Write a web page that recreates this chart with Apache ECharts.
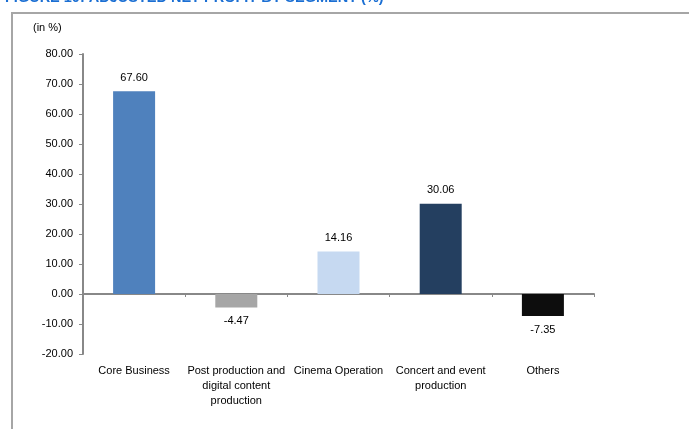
<!DOCTYPE html>
<html>
<head>
<meta charset="utf-8">
<script src="https://cdn.jsdelivr.net/npm/echarts@6/dist/echarts.min.js"></script>
<style>
  html, body { margin: 0; padding: 0; background: #fff; }
  #chart { width: 689px; height: 429px; }
</style>
</head>
<body>
<div id="chart"></div>
<script>
// Adjusted net profit by segment, in percent
const categories = [
  'Core Business',
  'Post production and\ndigital content\nproduction',
  'Cinema Operation',
  'Concert and event\nproduction',
  'Others'
];
const values = [67.60, -4.47, 14.16, 30.06, -7.35];
const barColors = ['#4F81BD', '#A6A6A6', '#C6D9F1', '#243F60', '#0D0D0D'];
const yTicks = { min: -20, max: 80, interval: 10 };

const font = 'Liberation Sans, Arial, sans-serif';
const chart = echarts.init(document.getElementById('chart'), null, { renderer: 'canvas' });

chart.setOption({
  animation: false,
  backgroundColor: '#fff',
  graphic: [
    {
      type: 'text',
      left: 5,
      top: -10,
      style: {
        text: 'FIGURE 10: ADJUSTED NET PROFIT BY SEGMENT (%)',
        font: 'bold 14.5px ' + font,
        fill: '#1B6FD3'
      }
    },
    {
      type: 'rect',
      shape: { x: 12, y: 13, width: 800, height: 600 },
      style: { fill: 'none', stroke: '#A6A6A6', lineWidth: 2 },
      z: -1
    },
    {
      type: 'text',
      left: 33,
      top: 22,
      style: { text: '(in %)', font: '11px ' + font, fill: '#000' }
    }
  ],
  grid: {
    left: 83, top: 54, right: 95, bottom: 75,
    containLabel: false,
    outerBoundsMode: 'none'
  },
  xAxis: {
    type: 'category',
    data: categories,
    axisLine: { onZero: true, lineStyle: { color: '#888', width: 2 } },
    axisTick: { show: true, length: 3, lineStyle: { color: '#888', width: 1 } },
    axisLabel: {
      color: '#000',
      fontSize: 11,
      fontFamily: font,
      lineHeight: 15,
      margin: 9,
      interval: 0,
      align: 'center'
    },
    splitLine: { show: false }
  },
  yAxis: {
    type: 'value',
    min: yTicks.min,
    max: yTicks.max,
    interval: yTicks.interval,
    axisLine: { show: true, lineStyle: { color: '#888', width: 2 } },
    axisTick: { show: true, length: 4, lineStyle: { color: '#888' } },
    axisLabel: {
      color: '#000',
      fontSize: 11,
      fontFamily: font,
      margin: 10,
      formatter: v => v.toFixed(2)
    },
    splitLine: { show: false }
  },
  series: [{
    type: 'bar',
    barWidth: 42,
    data: values.map((v, i) => ({
      value: v,
      itemStyle: { color: barColors[i] },
      label: { position: v >= 0 ? 'top' : 'bottom' }
    })),
    label: {
      show: true,
      distance: 8,
      color: '#000',
      fontSize: 11,
      fontFamily: font,
      formatter: p => p.value.toFixed(2)
    }
  }]
});
</script>
</body>
</html>
